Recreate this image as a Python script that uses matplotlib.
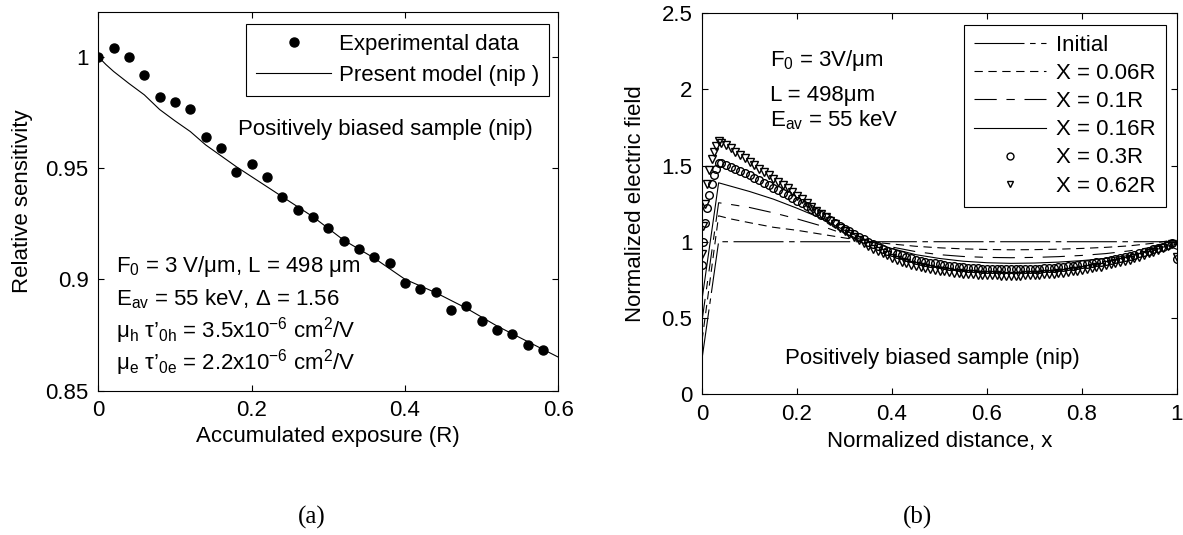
import matplotlib
matplotlib.use('Agg')
import matplotlib.pyplot as plt

plt.rcParams['font.family'] = ['Liberation Sans', 'DejaVu Sans']
plt.rcParams['mathtext.fontset'] = 'custom'
plt.rcParams['mathtext.rm'] = 'Liberation Sans'
plt.rcParams['mathtext.it'] = 'Liberation Sans:italic'
plt.rcParams['mathtext.default'] = 'regular'
plt.rcParams['lines.scale_dashes'] = False

# ---- (a) relative sensitivity vs accumulated exposure
exposure = [0.00, 0.02, 0.04, 0.06, 0.08, 0.10, 0.12, 0.14, 0.16, 0.18,
            0.20, 0.22, 0.24, 0.26, 0.28, 0.30, 0.32, 0.34, 0.36, 0.38,
            0.40, 0.42, 0.44, 0.46, 0.48, 0.50, 0.52, 0.54, 0.56, 0.58]
sens_exp = [1.000, 1.004, 1.000, 0.9919, 0.9821, 0.9796, 0.9764, 0.9641, 0.9591, 0.9484,
            0.9517, 0.9461, 0.9370, 0.9311, 0.9280, 0.9229, 0.9173, 0.9138, 0.9098, 0.9072,
            0.8985, 0.8954, 0.8943, 0.8860, 0.8878, 0.8811, 0.8770, 0.8755, 0.8705, 0.8680]
exposure_model = [0.00, 0.01, 0.02, 0.04, 0.06, 0.08, 0.10, 0.12, 0.14, 0.16, 0.18,
                  0.20, 0.24, 0.28, 0.32, 0.36, 0.40, 0.44, 0.48, 0.52, 0.56, 0.60]
sens_model = [1.000, 0.9965, 0.9934, 0.9880, 0.9829, 0.9763, 0.9712, 0.9664, 0.9604, 0.9555, 0.9506,
              0.9461, 0.9371, 0.9281, 0.9176, 0.9095, 0.9000, 0.8940, 0.8870, 0.8790, 0.8720, 0.8650]

# ---- (b) normalized field profiles
x_init = [0.0, 0.035, 1.0]
f_init = [0.23, 1.0, 1.0]

x_line = [0.0, 0.035, 0.06, 0.10, 0.15, 0.20, 0.25, 0.30, 0.35, 0.40, 0.45, 0.50,
          0.55, 0.60, 0.65, 0.70, 0.75, 0.80, 0.85, 0.90, 0.95, 0.98, 1.0]
f_006 = [0.35, 1.17, 1.15, 1.125, 1.095, 1.075, 1.05, 1.025, 1.0, 0.985, 0.97, 0.96,
         0.953, 0.949, 0.947, 0.948, 0.951, 0.956, 0.963, 0.973, 0.99, 1.005, 0.99]
f_010 = [0.48, 1.256, 1.245, 1.225, 1.19, 1.15, 1.105, 1.05, 1.0, 0.965, 0.935, 0.915,
         0.903, 0.897, 0.895, 0.897, 0.902, 0.91, 0.922, 0.94, 0.965, 0.995, 0.98]
f_016 = [0.62, 1.387, 1.365, 1.33, 1.28, 1.22, 1.155, 1.075, 1.005, 0.955, 0.915, 0.89,
         0.872, 0.862, 0.858, 0.86, 0.866, 0.876, 0.89, 0.91, 0.94, 0.975, 0.95]

x_mark = ([0.0, 0.003, 0.006, 0.01, 0.015, 0.02, 0.025, 0.03, 0.035]
          + [round(0.04 + 0.01 * i, 2) for i in range(96)] + [1.0])
f_030 = [0.85, 1.00, 1.12, 1.22, 1.31, 1.38, 1.44, 1.48, 1.52,
         1.515, 1.502, 1.490, 1.478, 1.465, 1.450, 1.435, 1.420, 1.405, 1.388,
         1.370, 1.355, 1.340, 1.322, 1.305, 1.288, 1.270, 1.252, 1.235, 1.215,
         1.195, 1.178, 1.160, 1.140, 1.120, 1.102, 1.085, 1.068, 1.050, 1.032,
         1.015, 1.000, 0.985, 0.970, 0.955, 0.942, 0.930, 0.920, 0.910, 0.900,
         0.890, 0.882, 0.875, 0.868, 0.862, 0.857, 0.852, 0.847, 0.843, 0.839,
         0.836, 0.833, 0.830, 0.828, 0.826, 0.824, 0.823, 0.822, 0.821, 0.820,
         0.820, 0.820, 0.820, 0.820, 0.821, 0.822, 0.823, 0.824, 0.826, 0.828,
         0.830, 0.833, 0.836, 0.839, 0.843, 0.847, 0.851, 0.855, 0.860, 0.865,
         0.870, 0.876, 0.882, 0.888, 0.895, 0.902, 0.909, 0.916, 0.924, 0.932,
         0.940, 0.949, 0.958, 0.968, 0.978, 0.990,
         0.885]
f_062 = [0.92, 1.10, 1.25, 1.38, 1.47, 1.54, 1.59, 1.63, 1.66,
         1.650, 1.632, 1.615, 1.592, 1.570, 1.548, 1.525, 1.502, 1.480, 1.458,
         1.435, 1.415, 1.395, 1.372, 1.350, 1.325, 1.300, 1.278, 1.255, 1.230,
         1.205, 1.182, 1.160, 1.138, 1.115, 1.092, 1.070, 1.050, 1.030, 1.010,
         0.990, 0.972, 0.955, 0.940, 0.925, 0.910, 0.895, 0.882, 0.870, 0.860,
         0.850, 0.842, 0.835, 0.827, 0.820, 0.815, 0.810, 0.805, 0.800, 0.796,
         0.793, 0.790, 0.788, 0.786, 0.784, 0.782, 0.781, 0.780, 0.779, 0.778,
         0.778, 0.778, 0.778, 0.778, 0.779, 0.780, 0.781, 0.783, 0.785, 0.787,
         0.790, 0.793, 0.797, 0.801, 0.805, 0.809, 0.814, 0.819, 0.825, 0.831,
         0.837, 0.844, 0.851, 0.858, 0.866, 0.874, 0.883, 0.892, 0.902, 0.912,
         0.923, 0.934, 0.946, 0.959, 0.972, 0.985,
         0.90]

W, H = 1183, 535
FS = 16


def fx(px):
    return px / W


def fy(py):
    return 1 - py / H


def style_axes(ax):
    ax.tick_params(direction='in', top=True, right=True, length=4, width=0.8,
                   labelsize=FS, pad=7, colors='k')
    for s in ax.spines.values():
        s.set_linewidth(0.8)


fig = plt.figure(figsize=(W / 100, H / 100), dpi=100)

# ---------- left panel
ax1 = fig.add_axes([fx(98.3), fy(390.5), 460 / W, 378.2 / H])
ax1.plot(exposure, sens_exp, 'o', color='k', ms=6.5, label='Experimental data')
ax1.plot(exposure_model, sens_model, '-', color='k', lw=0.8, label='Present model (nip )')
ax1.set_xlim(0, 0.6)
ax1.set_ylim(0.85, 1.02)
ax1.set_xticks([0, 0.2, 0.4, 0.6])
ax1.set_xticklabels(['0', '0.2', '0.4', '0.6'])
ax1.set_yticks([0.85, 0.9, 0.95, 1.0])
ax1.set_yticklabels(['0.85', '0.9', '0.95', '1'])
style_axes(ax1)
ax1.set_xlabel('Accumulated exposure (R)', fontsize=FS)
ax1.set_ylabel('Relative sensitivity', fontsize=FS)
ax1.xaxis.set_label_coords(0.5, -0.095)
ax1.yaxis.set_label_coords(-0.142, 0.5)
leg1 = ax1.legend(loc='upper right', bbox_to_anchor=(fx(549), fy(24)),
                  bbox_transform=fig.transFigure, fancybox=False, edgecolor='k',
                  framealpha=1, fontsize=FS, handlelength=3.36, handletextpad=0.35,
                  borderpad=0.45, labelspacing=0.45, numpoints=1, borderaxespad=0)
leg1.get_frame().set_linewidth(0.8)

fig.text(fx(238), fy(135), 'Positively biased sample (nip)', fontsize=FS, va='baseline')
fig.text(fx(116), fy(271.7), r'F$_0$ = 3 V/μm, L = 498 μm', fontsize=FS, va='baseline')
fig.text(fx(116), fy(305), r'E$_{av}$ = 55 keV, Δ = 1.56', fontsize=FS, va='baseline')
fig.text(fx(116), fy(337.3), r'μ$_h$ τ’$_{0h}$ = 3.5x10$^{-6}$ cm$^2$/V', fontsize=FS, va='baseline')
fig.text(fx(116), fy(369), r'μ$_e$ τ’$_{0e}$ = 2.2x10$^{-6}$ cm$^2$/V', fontsize=FS, va='baseline')

# ---------- right panel
ax2 = fig.add_axes([fx(702), fy(394), 475 / W, 380.7 / H])
ax2.plot(x_init, f_init, color='k', lw=0.8, dashes=(36, 4, 4, 4), label='Initial')
ax2.plot(x_line, f_006, color='k', lw=0.8, dashes=(6, 4), label='X = 0.06R')
ax2.plot(x_line, f_010, color='k', lw=0.8, dashes=(16, 7, 6, 7), label='X = 0.1R')
ax2.plot(x_line, f_016, color='k', lw=0.8, ls='-', label='X = 0.16R')
ax2.plot(x_mark, f_030, 'o', mfc='none', mec='k', ms=5.5, mew=1.0, label='X = 0.3R')
ax2.plot(x_mark, f_062, 'v', mfc='none', mec='k', ms=5.5, mew=1.0, label='X = 0.62R')
ax2.set_xlim(0, 1)
ax2.set_ylim(0, 2.5)
ax2.set_xticks([0, 0.2, 0.4, 0.6, 0.8, 1.0])
ax2.set_xticklabels(['0', '0.2', '0.4', '0.6', '0.8', '1'])
ax2.set_yticks([0, 0.5, 1.0, 1.5, 2.0, 2.5])
ax2.set_yticklabels(['0', '0.5', '1', '1.5', '2', '2.5'])
style_axes(ax2)
ax2.set_xlabel('Normalized distance, x', fontsize=FS)
ax2.set_ylabel('Normalized electric field', fontsize=FS)
ax2.xaxis.set_label_coords(0.5, -0.096)
ax2.yaxis.set_label_coords(-0.118, 0.5)
leg2 = ax2.legend(loc='upper right', bbox_to_anchor=(fx(1165.6), fy(25)),
                  bbox_transform=fig.transFigure, fancybox=False, edgecolor='k',
                  framealpha=1, fontsize=FS, handlelength=3.24, handletextpad=0.43,
                  borderpad=0.45, labelspacing=0.32, numpoints=1, borderaxespad=0)
leg2.get_frame().set_linewidth(0.8)
for h in leg2.legend_handles[4:]:
    h.set_markersize(5)

fig.text(fx(769.6), fy(66), r'F$_0$ = 3V/μm', fontsize=FS, va='baseline')
fig.text(fx(769.6), fy(101), 'L = 498μm', fontsize=FS, va='baseline')
fig.text(fx(769.6), fy(126), r'E$_{av}$ = 55 keV', fontsize=FS, va='baseline')
fig.text(fx(784.8), fy(364.3), 'Positively biased sample (nip)', fontsize=FS, va='baseline')

# panel tags
fig.text(fx(312), fy(517), '(a)', fontsize=18, family='Liberation Serif', ha='center', va='center')
fig.text(fx(917), fy(517), '(b)', fontsize=18, family='Liberation Serif', ha='center', va='center')

fig.savefig('out.png', dpi=100)
